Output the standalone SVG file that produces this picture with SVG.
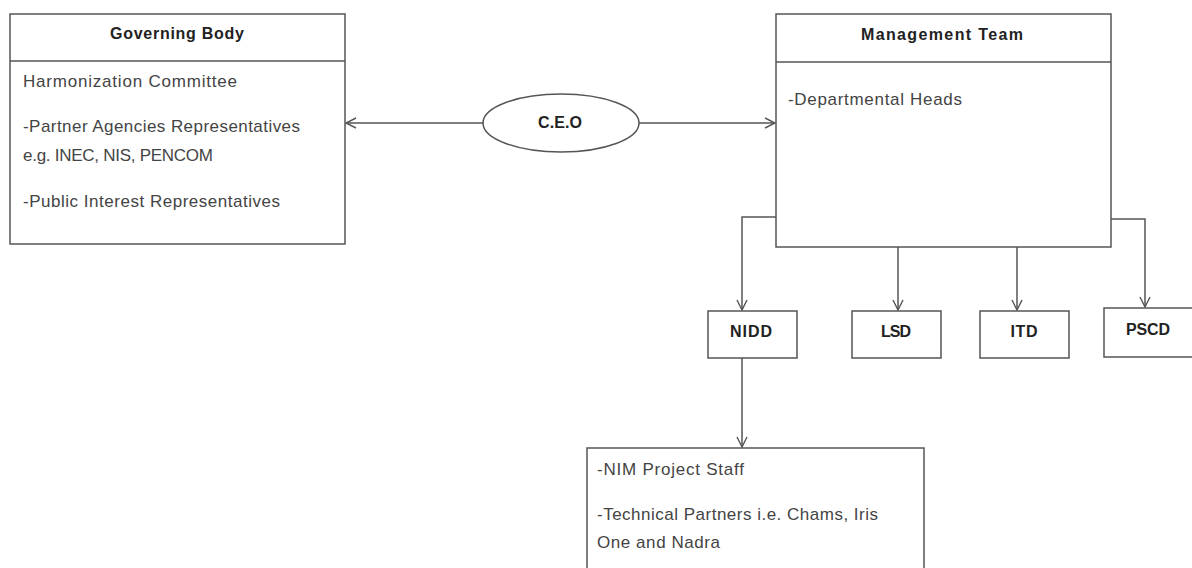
<svg xmlns="http://www.w3.org/2000/svg" width="1192" height="568" viewBox="0 0 1192 568">
<defs>
<marker id="arr" viewBox="0 0 12 12" refX="11" refY="6" markerWidth="12" markerHeight="12" markerUnits="userSpaceOnUse" orient="auto-start-reverse">
<path d="M1,1 L11,6 L1,11" fill="none" stroke="#555" stroke-width="1.4"/>
</marker>
</defs>
<style>
.box{fill:#fff;stroke:#555;stroke-width:1.5}
.ln{fill:none;stroke:#555;stroke-width:1.5}
.h{font-family:"Liberation Sans",Arial,sans-serif;font-weight:bold;font-size:16px;fill:#222}
.t{font-family:"Liberation Sans",Arial,sans-serif;font-size:17px;fill:#444}
</style>
<rect width="1192" height="568" fill="#fff"/>
<g id="connectors">
<path class="ln" d="M483,123 L346,123" marker-end="url(#arr)"/>
<path class="ln" d="M639,123 L775,123" marker-end="url(#arr)"/>
<path class="ln" d="M776,217 L742,217 L742,310" marker-end="url(#arr)"/>
<path class="ln" d="M898,247 L898,310" marker-end="url(#arr)"/>
<path class="ln" d="M1017,247 L1017,310" marker-end="url(#arr)"/>
<path class="ln" d="M1111,219 L1145,219 L1145,307" marker-end="url(#arr)"/>
<path class="ln" d="M742,358 L742,447" marker-end="url(#arr)"/>
</g>
<g id="governing-body">
<rect class="box" x="10" y="14" width="335" height="230"/>
<line class="ln" x1="10" y1="61" x2="345" y2="61"/>
<text class="h" x="177" y="39" text-anchor="middle" textLength="134">Governing Body</text>
<text class="t" x="23" y="87" textLength="214">Harmonization Committee</text>
<text class="t" x="23" y="132" textLength="277">-Partner Agencies Representatives</text>
<text class="t" x="23" y="161" textLength="190">e.g. INEC, NIS, PENCOM</text>
<text class="t" x="23" y="207" textLength="257">-Public Interest Representatives</text>
</g>
<g id="ceo">
<ellipse class="box" cx="561" cy="123" rx="78" ry="29"/>
<text class="h" x="560" y="128" text-anchor="middle" textLength="44">C.E.O</text>
</g>
<g id="management-team">
<rect class="box" x="776" y="14" width="335" height="233"/>
<line class="ln" x1="776" y1="62" x2="1111" y2="62"/>
<text class="h" x="942" y="40" text-anchor="middle" textLength="162">Management Team</text>
<text class="t" x="788" y="105" textLength="174">-Departmental Heads</text>
</g>
<g id="nidd">
<rect class="box" x="708" y="311" width="89" height="47"/>
<text class="h" x="751" y="337" text-anchor="middle" textLength="42">NIDD</text>
</g>
<g id="lsd">
<rect class="box" x="852" y="311" width="89" height="47"/>
<text class="h" x="896" y="337" text-anchor="middle" textLength="30">LSD</text>
</g>
<g id="itd">
<rect class="box" x="980" y="311" width="89" height="47"/>
<text class="h" x="1024" y="337" text-anchor="middle" textLength="27">ITD</text>
</g>
<g id="pscd">
<rect class="box" x="1104" y="308" width="90" height="49"/>
<text class="h" x="1148" y="335" text-anchor="middle" textLength="44">PSCD</text>
</g>
<g id="nim-staff">
<rect class="box" x="587" y="448" width="337" height="125"/>
<text class="t" x="597" y="475" textLength="147">-NIM Project Staff</text>
<text class="t" x="597" y="520" textLength="281">-Technical Partners i.e. Chams, Iris</text>
<text class="t" x="597" y="548" textLength="123">One and Nadra</text>
</g>
</svg>
